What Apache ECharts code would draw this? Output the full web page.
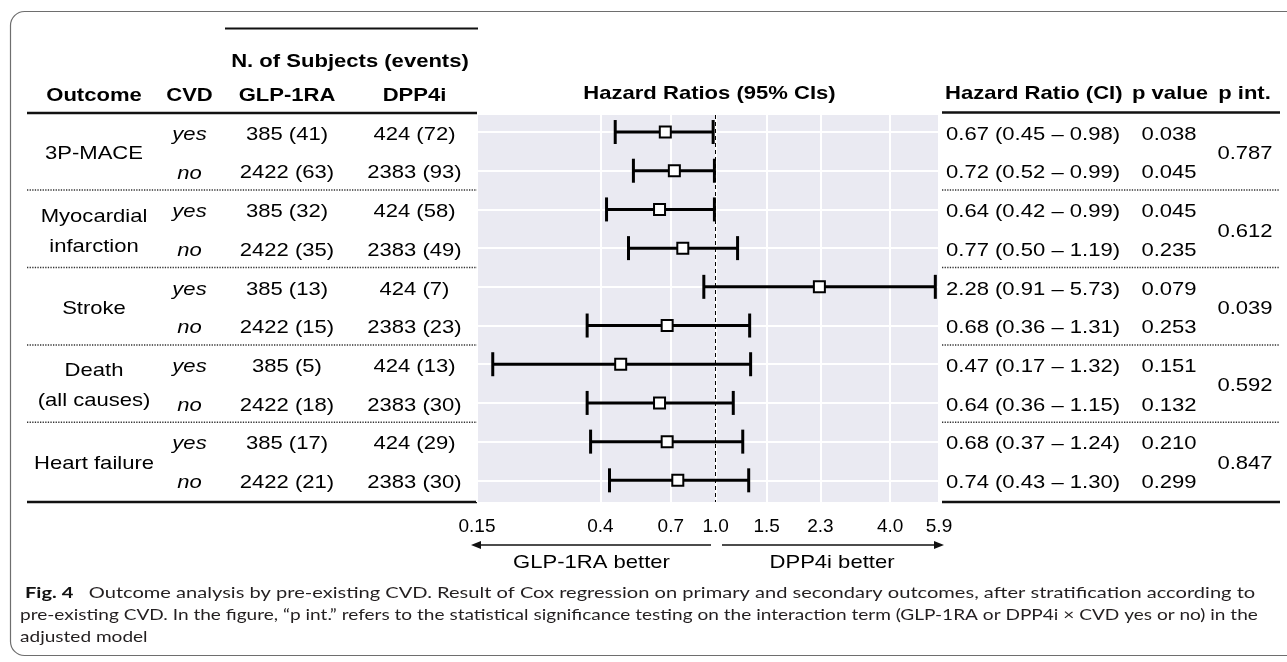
<!DOCTYPE html>
<html>
<head>
<meta charset="utf-8">
<title>Outcome analysis by pre-existing CVD</title>
<script src="https://cdn.jsdelivr.net/npm/echarts@6/dist/echarts.min.js"></script>
<style>
  html, body { margin: 0; padding: 0; background: #fff; }
  #forestChart { width: 1287px; height: 662px; }
</style>
</head>
<body>
<div id="forestChart"></div>
<script>
// outcome groups, each has two rows (CVD yes / no)
const outcomes = ['3P-MACE', 'Myocardial\ninfarction', 'Stroke', 'Death\n(all causes)', 'Heart failure'];
const pInt = ['0.787', '0.612', '0.039', '0.592', '0.847'];

// one entry per row
const cvd = ['yes', 'no', 'yes', 'no', 'yes', 'no', 'yes', 'no', 'yes', 'no'];
const glpSubjects = ['385 (41)', '2422 (63)', '385 (32)', '2422 (35)', '385 (13)', '2422 (15)', '385 (5)', '2422 (18)', '385 (17)', '2422 (21)'];
const dppSubjects = ['424 (72)', '2383 (93)', '424 (58)', '2383 (49)', '424 (7)', '2383 (23)', '424 (13)', '2383 (30)', '424 (29)', '2383 (30)'];
const hr = [0.67, 0.72, 0.64, 0.77, 2.28, 0.68, 0.47, 0.64, 0.68, 0.74];
const ciLow = [0.45, 0.52, 0.42, 0.50, 0.91, 0.36, 0.17, 0.36, 0.37, 0.43];
const ciHigh = [0.98, 0.99, 0.99, 1.19, 5.73, 1.31, 1.32, 1.15, 1.24, 1.30];
const pValue = ['0.038', '0.045', '0.045', '0.235', '0.079', '0.253', '0.151', '0.132', '0.210', '0.299'];

// x axis (log scale) ticks
const xTicks = [0.15, 0.4, 0.7, 1.0, 1.5, 2.3, 4.0, 5.9];
const xTickLabels = ['0.15', '0.4', '0.7', '1.0', '1.5', '2.3', '4.0', '5.9'];

// caption
const captionLines = [
  '{b|Fig. 4}   Outcome analysis by pre-existing CVD. Result of Cox regression on primary and secondary outcomes, after stratification according to',
  'pre-existing CVD. In the figure, \u201cp int.\u201d refers to the statistical significance testing on the interaction term (GLP-1RA or DPP4i \u00d7 CVD yes or no) in the',
  'adjusted model'
];

// layout
const FONT = '"Liberation Sans", Arial, Helvetica, sans-serif';
const CAP_FONT = 'Lato, "Open Sans", sans-serif';
const STRETCH = 1.16; // source figure text is a bit wide
const FS = 19;
const TEXT_DY = 2.5;
const colX = { outcome: 94, cvd: 189.5, glp: 287, dpp: 414.5, hr: 946, p: 1169, pint: 1245 };
const leftRule = [27, 477];
const rightRule = [942, 1280];
const capPos = [[25, 593, 1.255], [20, 615, 1.19], [20, 637, 1.19]];
const rowIdx = cvd.map((d, i) => i + 1);

function cell(x, y, text, align, opts) {
  opts = opts || {};
  return {
    type: 'text',
    x: x,
    y: y,
    scaleX: STRETCH,
    style: {
      text: text,
      align: align,
      textAlign: align,
      verticalAlign: 'middle',
      textVerticalAlign: 'middle',
      fontSize: opts.size || FS,
      fontFamily: FONT,
      fontStyle: opts.italic ? 'italic' : 'normal',
      fontWeight: opts.bold ? 'bold' : 'normal',
      lineHeight: opts.lineHeight || 22,
      fill: '#000'
    },
    z2: 10
  };
}

function rule(x1, x2, y, width, dotted) {
  return {
    type: 'line',
    shape: { x1: x1, y1: y, x2: x2, y2: y },
    style: {
      stroke: dotted ? '#333' : '#111',
      lineWidth: width,
      lineDash: dotted ? [1.3, 1.3] : null
    }
  };
}

function tickLabel(v) {
  let best = 0;
  xTicks.forEach((t, i) => {
    if (Math.abs(t - v) < Math.abs(xTicks[best] - v)) best = i;
  });
  return xTickLabels[best];
}

const myChart = echarts.init(document.getElementById('forestChart'), null, { renderer: 'canvas' });

const option = {
  animation: false,
  backgroundColor: '#fff',
  grid: {
    left: 477,
    right: 1287 - 939,
    top: 115,
    bottom: 662 - 502,
    show: true,
    backgroundColor: '#eaeaf2',
    borderWidth: 0
  },
  xAxis: {
    type: 'log',
    logBase: 10,
    min: 0.15,
    max: 5.9,
    axisLine: { show: false },
    axisTick: { show: false, customValues: xTicks },
    axisLabel: {
      customValues: xTicks,
      formatter: tickLabel,
      fontSize: FS,
      fontFamily: FONT,
      color: '#000',
      margin: 15,
      showMinLabel: true,
      showMaxLabel: true,
      hideOverlap: false
    },
    splitLine: { show: true, lineStyle: { color: '#fff', width: 2 } }
  },
  yAxis: {
    type: 'value',
    inverse: true,
    min: 0.56,
    max: 10.56,
    axisLine: { show: false },
    axisTick: { show: false, customValues: rowIdx },
    axisLabel: { show: false },
    splitLine: { show: true, lineStyle: { color: '#fff', width: 2 } }
  },
  series: [
    {
      // confidence intervals
      type: 'custom',
      name: 'CI',
      data: rowIdx.map((r, i) => [ciLow[i], ciHigh[i], r]),
      encode: { x: [0, 1], y: 2 },
      clip: false,
      z: 2,
      renderItem: function (params, api) {
        const y = api.value(2);
        const p1 = api.coord([api.value(0), y]);
        const p2 = api.coord([api.value(1), y]);
        const cap = 12;
        const st = { stroke: '#000', lineWidth: 3 };
        return {
          type: 'group',
          children: [
            { type: 'line', shape: { x1: p1[0], y1: p1[1], x2: p2[0], y2: p2[1] }, style: st },
            { type: 'line', shape: { x1: p1[0], y1: p1[1] - cap, x2: p1[0], y2: p1[1] + cap }, style: st },
            { type: 'line', shape: { x1: p2[0], y1: p2[1] - cap, x2: p2[0], y2: p2[1] + cap }, style: st }
          ]
        };
      }
    },
    {
      type: 'scatter',
      name: 'HR',
      data: rowIdx.map((r, i) => [hr[i], r]),
      symbol: 'rect',
      symbolSize: 11,
      itemStyle: { color: '#fff', borderColor: '#000', borderWidth: 2, opacity: 1 },
      z: 4,
      markLine: {
        silent: true,
        symbol: 'none',
        label: { show: false },
        lineStyle: { color: '#000', type: [4, 3], width: 1 },
        data: [{ xAxis: 1 }]
      }
    },
    {
      // table cells for each row
      type: 'custom',
      name: 'rows',
      data: rowIdx.map((r) => [1, r]),
      clip: false,
      z: 5,
      silent: true,
      renderItem: function (params, api) {
        const i = params.dataIndex;
        const y = api.coord([1, api.value(1)])[1] + TEXT_DY;
        const hrText = hr[i].toFixed(2) + ' (' + ciLow[i].toFixed(2) + ' \u2013 ' + ciHigh[i].toFixed(2) + ')';
        return {
          type: 'group',
          children: [
            cell(colX.cvd, y, cvd[i], 'center', { italic: true }),
            cell(colX.glp, y, glpSubjects[i], 'center'),
            cell(colX.dpp, y, dppSubjects[i], 'center'),
            cell(colX.hr, y, hrText, 'left'),
            cell(colX.p, y, pValue[i], 'center')
          ]
        };
      }
    },
    {
      // outcome labels, interaction p and group separators
      type: 'custom',
      name: 'groups',
      data: outcomes.map((o, g) => [1, g * 2 + 1.5]),
      clip: false,
      z: 5,
      silent: true,
      renderItem: function (params, api) {
        const g = params.dataIndex;
        const y = api.coord([1, api.value(1)])[1] + TEXT_DY;
        const children = [
          cell(colX.outcome, y, outcomes[g], 'center', { lineHeight: 30 }),
          cell(colX.pint, y, pInt[g], 'center')
        ];
        if (g > 0) {
          const ys = api.coord([1, g * 2 + 0.5])[1];
          children.push(rule(leftRule[0], leftRule[1], ys, 1.5, true));
          children.push(rule(rightRule[0], rightRule[1], ys, 1.5, true));
        }
        return { type: 'group', children: children };
      }
    }
  ],
  graphic: [
    // outer frame
    {
      type: 'rect',
      shape: { x: 10.5, y: 11.5, width: 1330, height: 644, r: 14 },
      style: { fill: 'none', stroke: '#6e6e6e', lineWidth: 1.2 },
      silent: true
    },
    // header texts
    cell(350, 62, 'N. of Subjects (events)', 'center', { bold: true }),
    cell(colX.outcome, 96, 'Outcome', 'center', { bold: true }),
    cell(colX.cvd, 96, 'CVD', 'center', { bold: true }),
    cell(colX.glp, 96, 'GLP-1RA', 'center', { bold: true }),
    cell(colX.dpp, 96, 'DPP4i', 'center', { bold: true }),
    cell(709.5, 94, 'Hazard Ratios (95% CIs)', 'center', { bold: true }),
    cell(945, 94, 'Hazard Ratio (CI)', 'left', { bold: true }),
    cell(1170, 94, 'p value', 'center', { bold: true }),
    cell(1244.5, 94, 'p int.', 'center', { bold: true }),
    // table rules
    rule(225, 478, 28.5, 2),
    rule(leftRule[0], leftRule[1], 113, 2.5),
    rule(rightRule[0], rightRule[1], 112.5, 2.5),
    rule(leftRule[0], leftRule[1], 502, 2.5),
    rule(rightRule[0], rightRule[1], 502, 2.5),
    // direction arrows
    rule(479, 711, 545, 1.5),
    { type: 'polygon', shape: { points: [[471, 545], [481, 541], [481, 549]] }, style: { fill: '#111' } },
    rule(722, 936, 545, 1.5),
    { type: 'polygon', shape: { points: [[944, 545], [934, 541], [934, 549]] }, style: { fill: '#111' } },
    cell(591.5, 563, 'GLP-1RA better', 'center'),
    cell(832, 563, 'DPP4i better', 'center')
  ].concat(captionLines.map((t, i) => ({
    type: 'text',
    x: capPos[i][0],
    y: capPos[i][1],
    scaleX: capPos[i][2],
    style: {
      text: t,
      rich: { b: { fontWeight: 'bold', fontSize: 16, fontFamily: CAP_FONT, fill: '#111' } },
      fontSize: 16,
      fontFamily: CAP_FONT,
      fill: '#231f20',
      align: 'left',
      textAlign: 'left',
      verticalAlign: 'middle',
      textVerticalAlign: 'middle'
    }
  })))
};

myChart.setOption(option);
window.addEventListener('resize', function () { myChart.resize(); });
</script>
</body>
</html>
